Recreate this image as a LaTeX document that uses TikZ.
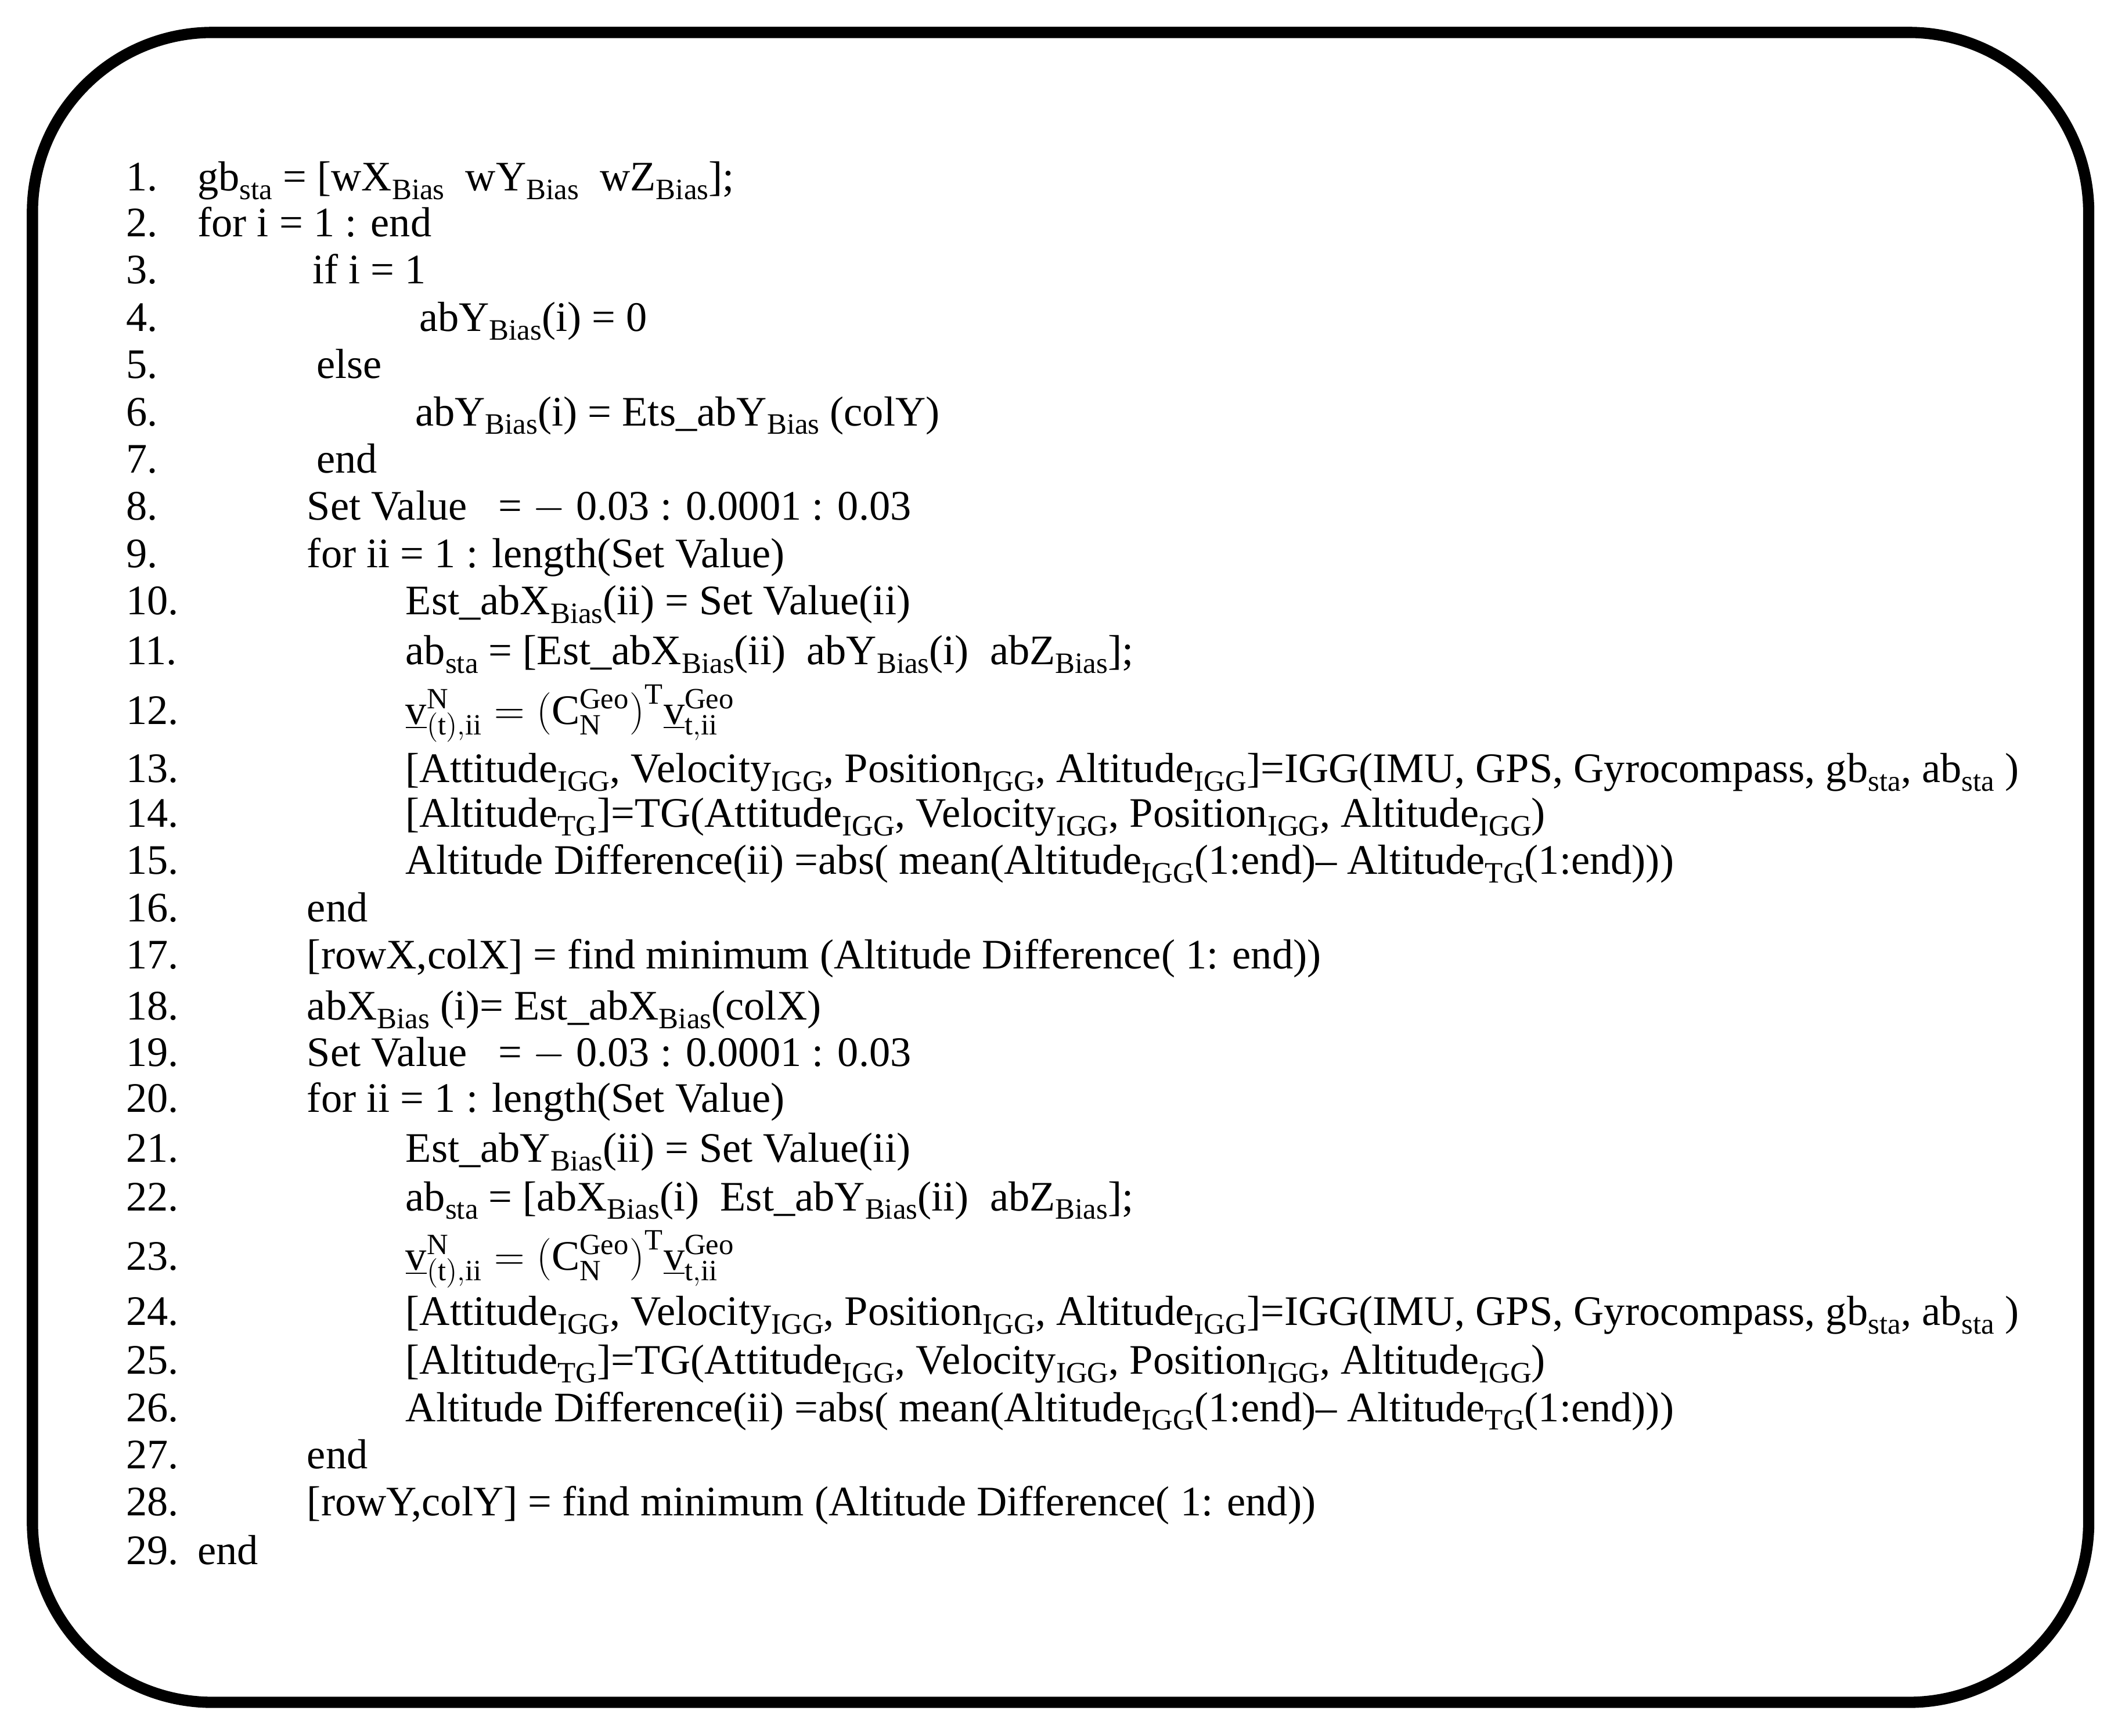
\documentclass[tikz,border=0pt]{standalone}
\usepackage{fontspec}
\setmainfont{Liberation Serif}
\newcommand\sbs[1]{\raisebox{-0.45ex}{\fontsize{14.5}{14.5}\selectfont #1}}
\begin{document}
\begin{tikzpicture}[x=0.02327cm,y=-0.02327cm,
  ln/.style={anchor=base west,inner sep=0pt,font=\fontsize{20.6}{23}\selectfont},
  frame/.style={line width=5.5pt,rounded corners=3.1cm}]
\useasboundingbox (0,0) rectangle (1567.7,1284.9);
\draw[frame] (24,24) rectangle (1546,1260);
\def\L#1#2#3#4{\node[ln] (n#1) at (93,#2+8) {#1.}; \node[ln] (t#1) at (#3,#2+8) {#4};}
\L{1}{133}{146}{gb\sbs{sta} = [wX\sbs{Bias}\ \ wY\sbs{Bias}\ \ wZ\sbs{Bias}];}
\L{2}{167}{146}{for i = 1 : end}
\L{3}{202}{231}{if i = 1}
\L{4}{237}{310}{abY\sbs{Bias}(i) = 0}
\L{5}{272}{234}{else}
\L{6}{307}{307}{abY\sbs{Bias}(i) = Ets\_abY\sbs{Bias} (colY)}
\L{7}{342}{234}{end}
\L{8}{377}{227}{Set Value\ \ \ = $-$ 0.03 : 0.0001 : 0.03}
\L{9}{412}{227}{for ii = 1 : length(Set Value)}
\L{10}{447}{300}{Est\_abX\sbs{Bias}(ii) = Set Value(ii)}
\L{11}{484}{300}{ab\sbs{sta} = [Est\_abX\sbs{Bias}(ii)\ \ abY\sbs{Bias}(i)\ \ abZ\sbs{Bias}];}
\L{12}{528}{300}{$\underline{\mathrm{v}}^{\mathrm{N}}_{(\mathrm{t}),\mathrm{ii}} = \bigl(\mathrm{C}^{\mathrm{Geo}}_{\mathrm{N}}\bigr)^{\mathrm{T}}\underline{\mathrm{v}}^{\mathrm{Geo}}_{\mathrm{t,ii}}$}
\L{13}{571}{300}{[Attitude\sbs{IGG}, Velocity\sbs{IGG}, Position\sbs{IGG}, Altitude\sbs{IGG}]=IGG(IMU, GPS, Gyrocompass, gb\sbs{sta}, ab\sbs{sta} )}
\L{14}{604}{300}{[Altitude\sbs{TG}]=TG(Attitude\sbs{IGG}, Velocity\sbs{IGG}, Position\sbs{IGG}, Altitude\sbs{IGG})}
\L{15}{639}{300}{Altitude Difference(ii) =abs( mean(Altitude\sbs{IGG}(1:end)-- Altitude\sbs{TG}(1:end)))}
\L{16}{674}{227}{end}
\L{17}{709}{227}{[rowX,colX] = find minimum (Altitude Difference( 1: end))}
\L{18}{747}{227}{abX\sbs{Bias} (i)= Est\_abX\sbs{Bias}(colX)}
\L{19}{781}{227}{Set Value\ \ \ = $-$ 0.03 : 0.0001 : 0.03}
\L{20}{815}{227}{for ii = 1 : length(Set Value)}
\L{21}{852}{300}{Est\_abY\sbs{Bias}(ii) = Set Value(ii)}
\L{22}{888}{300}{ab\sbs{sta} = [abX\sbs{Bias}(i)\ \ Est\_abY\sbs{Bias}(ii)\ \ abZ\sbs{Bias}];}
\L{23}{932}{300}{$\underline{\mathrm{v}}^{\mathrm{N}}_{(\mathrm{t}),\mathrm{ii}} = \bigl(\mathrm{C}^{\mathrm{Geo}}_{\mathrm{N}}\bigr)^{\mathrm{T}}\underline{\mathrm{v}}^{\mathrm{Geo}}_{\mathrm{t,ii}}$}
\L{24}{973}{300}{[Attitude\sbs{IGG}, Velocity\sbs{IGG}, Position\sbs{IGG}, Altitude\sbs{IGG}]=IGG(IMU, GPS, Gyrocompass, gb\sbs{sta}, ab\sbs{sta} )}
\L{25}{1009}{300}{[Altitude\sbs{TG}]=TG(Attitude\sbs{IGG}, Velocity\sbs{IGG}, Position\sbs{IGG}, Altitude\sbs{IGG})}
\L{26}{1044}{300}{Altitude Difference(ii) =abs( mean(Altitude\sbs{IGG}(1:end)-- Altitude\sbs{TG}(1:end)))}
\L{27}{1079}{227}{end}
\L{28}{1114}{227}{[rowY,colY] = find minimum (Altitude Difference( 1: end))}
\L{29}{1150}{146}{end}
\end{tikzpicture}
\end{document}
